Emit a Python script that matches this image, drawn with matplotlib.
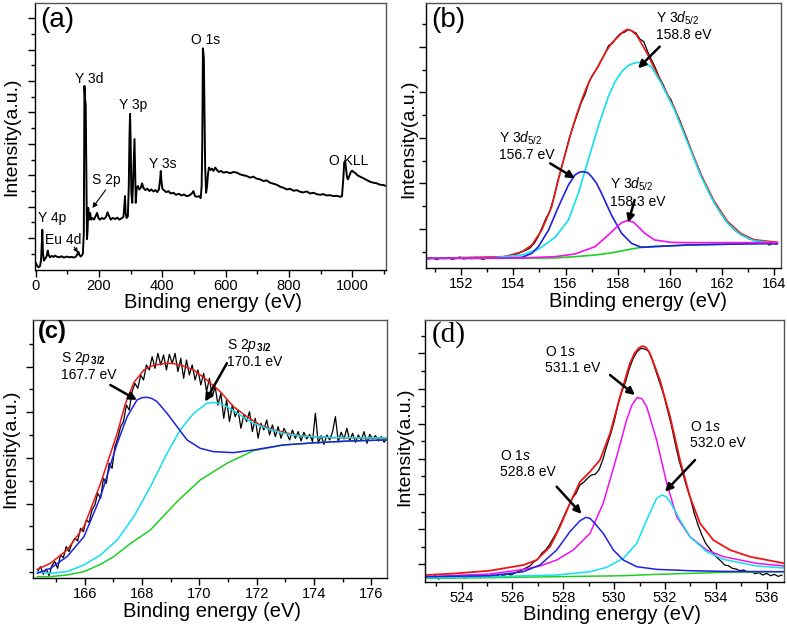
import numpy as np
import matplotlib
matplotlib.use('Agg')
import matplotlib.pyplot as plt
from matplotlib.ticker import MultipleLocator, FixedLocator

plt.rcParams['font.family'] = ['Liberation Sans', 'DejaVu Sans']
plt.rcParams['mathtext.fontset'] = 'custom'
plt.rcParams['mathtext.rm'] = 'Liberation Sans'
plt.rcParams['mathtext.it'] = 'Liberation Sans:italic'
plt.rcParams['mathtext.bf'] = 'Liberation Sans:bold'

# ---------------- (a) survey spectrum ----------------
survey_ev = [1, 5, 9, 14, 17, 19, 21, 23, 26, 31, 35, 38, 41, 45, 51, 56, 61, 66, 75, 82,
             89, 98, 106, 114, 121, 127, 132, 135, 138, 142, 146, 149, 152, 154, 156, 158, 160, 162, 164, 166,
             168, 172, 175, 178, 184, 189, 194, 198, 203, 209, 216, 222, 227, 232, 237, 243, 251, 258, 264, 271,
             277, 280, 282, 284, 287, 291, 294, 296, 298, 300, 302, 305, 307, 310, 312, 314, 316, 319, 323, 327,
             332, 336, 340, 346, 353, 359, 365, 372, 378, 384, 389, 393, 395, 397, 400, 405, 412, 419, 426, 435,
             443, 452, 460, 468, 477, 485, 493, 498, 503, 509, 516, 521, 524, 526, 528, 531, 533, 535, 538, 541,
             544, 547, 552, 556, 561, 567, 572, 578, 585, 593, 603, 614, 624, 635, 645, 656, 666, 677, 687, 698,
             708, 719, 729, 740, 751, 761, 772, 782, 793, 803, 814, 824, 835, 845, 856, 866, 877, 887, 898, 908,
             919, 929, 940, 951, 961, 967, 971, 974, 977, 980, 983, 986, 990, 995, 999, 1003, 1010, 1016, 1024, 1033,
             1041, 1049, 1058, 1066, 1077, 1087, 1098, 1106]
survey_int = [20, 12, 8, 12, 30, 70, 120, 50, 28, 35, 42, 58, 45, 38, 42, 39, 43, 40, 38, 41,
              37, 40, 38, 39, 37, 40, 48, 54, 45, 40, 44, 48, 110, 548, 510, 492, 290, 92, 120, 185,
              150, 170, 150, 155, 150, 160, 170, 155, 150, 155, 152, 158, 172, 160, 150, 155, 152, 156, 150, 154,
              158, 190, 220, 170, 155, 160, 250, 390, 465, 380, 230, 200, 250, 340, 390, 290, 200, 245, 250, 240,
              245, 258, 245, 238, 242, 235, 240, 234, 238, 232, 240, 270, 295, 265, 242, 238, 232, 235, 228, 230,
              224, 227, 222, 225, 220, 222, 228, 235, 220, 218, 220, 214, 250, 380, 660, 630, 470, 310, 230, 250,
              285, 305, 298, 302, 295, 305, 298, 292, 295, 290, 292, 288, 292, 290, 285, 282, 280, 275, 278, 272,
              270, 265, 267, 260, 257, 254, 248, 245, 240, 242, 236, 238, 233, 231, 234, 228, 230, 226, 224, 226,
              222, 223, 220, 221, 218, 220, 270, 320, 325, 300, 275, 270, 280, 292, 296, 292, 288, 282, 278, 274,
              270, 266, 262, 260, 258, 254, 253, 250]
survey_labels = ['Y 4p', 'Eu 4d', 'S 2p', 'Y 3d', 'Y 3p', 'Y 3s', 'O 1s', 'O KLL']
survey_label_ev = [53, 87, 224, 168, 308, 400, 535, 987]
survey_label_int = [155, 90, 268, 570, 490, 316, 685, 325]

# ---------------- (b) Y 3d ----------------
y3d_ev = [150.75, 150.9, 151.05, 151.2, 151.35, 151.5, 151.65, 151.8, 151.95, 152.1, 152.25, 152.4,
          152.55, 152.7, 152.85, 153.0, 153.15, 153.3, 153.45, 153.6, 153.75, 153.9, 154.05, 154.2,
          154.35, 154.5, 154.65, 154.8, 154.95, 155.1, 155.25, 155.4, 155.55, 155.7, 155.85, 156.0,
          156.15, 156.3, 156.45, 156.6, 156.75, 156.9, 157.05, 157.2, 157.35, 157.5, 157.65, 157.8,
          157.95, 158.1, 158.25, 158.4, 158.55, 158.7, 158.85, 159.0, 159.15, 159.3, 159.45, 159.6,
          159.75, 159.9, 160.05, 160.2, 160.35, 160.5, 160.65, 160.8, 160.95, 161.1, 161.25, 161.4,
          161.55, 161.7, 161.85, 162.0, 162.15, 162.3, 162.45, 162.6, 162.75, 162.9, 163.05, 163.2,
          163.35, 163.5, 163.65, 163.8, 163.95, 164.1]
y3d_data = [28, 32, 26, 31, 29, 33, 27, 30, 34, 28, 31, 29,
            33, 30, 27, 32, 30, 34, 31, 35, 37, 40, 41, 45,
            50, 55, 62, 75, 95, 122, 150, 172, 212, 262, 302, 348,
            392, 428, 462, 497, 522, 560, 580, 600, 622, 642, 668, 675,
            692, 704, 708, 716, 712, 706, 688, 680, 650, 625, 600, 572,
            550, 522, 505, 472, 450, 420, 390, 357, 325, 300, 270, 245,
            220, 198, 178, 160, 142, 130, 118, 108, 100, 95, 88, 85,
            82, 78, 80, 70, 74, 72]
y3d_env_ev = [150.7, 153.69, 154.33, 154.71, 155.09, 155.47, 155.85, 156.05, 156.24, 156.43, 156.62, 156.81,
              157.0, 157.25, 157.51, 157.76, 158.02, 158.21, 158.37, 158.53, 158.72, 158.91, 159.16, 159.67,
              160.18, 160.69, 161.2, 161.71, 162.22, 162.73, 163.23, 164.12]
y3d_env = [30, 35, 50, 70, 115, 185, 305, 360, 415, 462, 505, 543,
           575, 605, 645, 675, 695, 710, 717, 713, 700, 675, 640, 558,
           480, 380, 280, 200, 140, 104, 86, 78]
y3d_a_ev = [150.7, 152.4, 153.7, 154.33, 154.71, 154.96, 155.35, 155.73, 156.11, 156.36, 156.52, 156.68,
            156.85, 157.0, 157.19, 157.38, 157.76, 158.15, 158.53, 158.91, 159.42, 160.69, 161.96, 164.12]
y3d_a = [30, 30, 31, 33, 45, 65, 115, 185, 250, 280, 288, 290,
         287, 275, 255, 225, 160, 105, 75, 63, 65, 70, 72, 75]
y3d_b_ev = [150.7, 153.7, 154.33, 155.6, 156.36, 157.13, 157.64, 158.02, 158.15, 158.37, 158.59, 158.72,
            159.04, 159.42, 160.05, 160.69, 164.12]
y3d_b = [30, 31, 31, 35, 43, 65, 100, 128, 137, 143, 139, 130, 105, 85, 78, 77, 77]
y3d_c_ev = [150.7, 153.06, 154.33, 154.96, 155.6, 156.11, 156.49, 156.87, 157.25, 157.64, 157.9, 158.15,
            158.4, 158.6, 158.78, 159.04, 159.29, 159.67, 160.18, 160.69, 161.2, 161.71, 162.22, 162.73,
            163.23, 164.12]
y3d_c = [30, 31, 40, 57, 93, 145, 225, 325, 425, 515, 560, 590,
         608, 615, 618, 615, 605, 555, 475, 375, 275, 195, 135, 100,
         83, 75]
y3d_bg_ev = [150.7, 152.4, 154.33, 155.6, 156.36, 157.13, 157.64, 158.15, 158.53, 158.91, 159.42, 160.69,
             161.96, 164.12]
y3d_bg = [30, 30, 30, 31, 35, 40, 45, 52, 58, 63, 66, 70, 72, 75]

# ---------------- (c) S 2p ----------------
s2p_ev = [164.35, 164.45, 164.55, 164.65, 164.75, 164.85, 164.95, 165.05, 165.15, 165.25, 165.35, 165.45,
          165.55, 165.65, 165.75, 165.85, 165.95, 166.05, 166.15, 166.25, 166.35, 166.45, 166.55, 166.65,
          166.75, 166.85, 166.95, 167.05, 167.15, 167.25, 167.35, 167.45, 167.55, 167.65, 167.75, 167.85,
          167.95, 168.05, 168.15, 168.25, 168.35, 168.45, 168.55, 168.65, 168.75, 168.85, 168.95, 169.05,
          169.15, 169.25, 169.35, 169.45, 169.55, 169.65, 169.75, 169.85, 169.95, 170.05, 170.15, 170.25,
          170.35, 170.45, 170.55, 170.65, 170.75, 170.85, 170.95, 171.05, 171.15, 171.25, 171.35, 171.45,
          171.55, 171.65, 171.75, 171.85, 171.95, 172.05, 172.15, 172.25, 172.35, 172.45, 172.55, 172.65,
          172.75, 172.85, 172.95, 173.05, 173.15, 173.25, 173.35, 173.45, 173.55, 173.65, 173.75, 173.85,
          173.95, 174.05, 174.15, 174.25, 174.35, 174.45, 174.55, 174.65, 174.75, 174.85, 174.95, 175.05,
          175.15, 175.25, 175.35, 175.45, 175.55, 175.65, 175.75, 175.85, 175.95, 176.05, 176.15, 176.25,
          176.35, 176.45, 176.55]
s2p_data = [20, 35, 12, 28, 8, 38, 50, 30, 70, 62, 95, 80,
            105, 120, 112, 150, 140, 175, 168, 205, 220, 255, 240, 300,
            285, 345, 330, 395, 420, 455, 470, 520, 505, 560, 585, 570,
            610, 595, 640, 625, 665, 630, 675, 640, 670, 625, 672, 645,
            675, 620, 660, 600, 655, 610, 640, 595, 625, 580, 615, 560,
            600, 545, 575, 520, 555, 480, 535, 470, 520, 485, 505, 450,
            490, 470, 500, 440, 480, 420, 465, 445, 475, 430, 460, 425,
            455, 420, 450, 435, 415, 445, 420, 440, 412, 438, 418, 432,
            410, 495, 405, 428, 402, 430, 415, 440, 485, 410, 438, 418,
            450, 412, 435, 408, 430, 415, 440, 405, 432, 418, 428, 412,
            425, 408, 420]
s2p_env_ev = [164.34, 164.8, 165.38, 165.97, 166.55, 167.13, 167.42, 167.71, 168.06, 168.3, 168.52, 168.87,
              169.1, 169.33, 169.8, 170.26, 170.73, 171.19, 171.66, 172.12, 172.59, 173.51, 174.68, 176.53]
s2p_env = [27, 45, 85, 155, 285, 435, 525, 587, 625, 636, 641, 645,
           644, 640, 625, 595, 560, 515, 485, 460, 445, 427, 422, 420]
s2p_a_ev = [164.34, 164.8, 165.38, 165.97, 166.55, 167.13, 167.48, 167.82, 168.0, 168.17, 168.35, 168.52,
            168.87, 169.22, 169.57, 170.03, 170.49, 171.19, 171.89, 172.93, 174.1, 175.26, 176.53]
s2p_a = [15, 30, 65, 125, 245, 405, 485, 535, 542, 543, 539, 530,
         495, 455, 415, 390, 380, 377, 385, 400, 407, 412, 415]
s2p_b_ev = [164.34, 164.8, 165.38, 165.97, 166.55, 167.13, 167.71, 168.29, 168.87, 169.33, 169.8, 170.26,
            170.49, 170.73, 170.96, 171.42, 171.89, 172.35, 172.93, 173.51, 174.68, 176.53]
s2p_b = [20, 15, 20, 40, 70, 115, 185, 275, 375, 445, 495, 525,
         528, 524, 515, 490, 465, 450, 435, 427, 422, 421]
s2p_bg_ev = [164.34, 164.8, 165.38, 165.97, 166.55, 167.01, 167.6, 168.29, 169.22, 170.03, 170.96, 171.89,
             172.93, 174.1, 175.26, 176.53]
s2p_bg = [5, 5, 10, 20, 42, 65, 105, 145, 230, 295, 345, 383, 400, 407, 412, 415]

# ---------------- (d) O 1s ----------------
o1s_ev = [522.65, 522.8, 522.95, 523.1, 523.25, 523.4, 523.55, 523.7, 523.85, 524.0, 524.15, 524.3,
          524.45, 524.6, 524.75, 524.9, 525.05, 525.2, 525.35, 525.5, 525.65, 525.8, 525.95, 526.1,
          526.25, 526.4, 526.55, 526.7, 526.85, 527.0, 527.15, 527.3, 527.45, 527.6, 527.75, 527.9,
          528.05, 528.2, 528.35, 528.5, 528.65, 528.8, 528.95, 529.1, 529.25, 529.4, 529.55, 529.7,
          529.85, 530.0, 530.15, 530.3, 530.45, 530.6, 530.75, 530.9, 531.05, 531.2, 531.35, 531.5,
          531.65, 531.8, 531.95, 532.1, 532.25, 532.4, 532.55, 532.7, 532.85, 533.0, 533.15, 533.3,
          533.45, 533.6, 533.75, 533.9, 534.05, 534.2, 534.35, 534.5, 534.65, 534.8, 534.95, 535.1,
          535.25, 535.4, 535.55, 535.7, 535.85, 536.0, 536.15, 536.3, 536.45, 536.6]
o1s_data = [15, 10, 18, 8, 14, 12, 20, 10, 16, 14, 11, 18,
            13, 17, 12, 19, 15, 20, 16, 22, 18, 24, 20, 27,
            30, 36, 42, 48, 60, 68, 85, 95, 110, 130, 150, 175,
            200, 225, 250, 265, 290, 298, 310, 320, 322, 335, 365, 405,
            440, 480, 530, 570, 600, 640, 670, 690, 700, 698, 692, 665,
            630, 595, 560, 515, 470, 415, 365, 325, 285, 250, 205, 170,
            140, 115, 100, 85, 72, 62, 50, 48, 40, 38, 33, 35,
            28, 30, 24, 27, 20, 25, 18, 22, 16, 20]
o1s_env_ev = [522.62, 523.8, 525.11, 526.43, 526.95, 527.48, 527.87, 528.26, 528.66, 529.05, 529.44, 529.84,
              530.23, 530.62, 530.8, 530.95, 531.12, 531.25, 531.41, 531.8, 532.2, 532.59, 532.98, 533.38,
              533.9, 534.56, 535.34, 536.7]
o1s_env = [20, 25, 33, 50, 65, 105, 165, 235, 300, 330, 365, 445,
           555, 655, 685, 700, 707, 703, 685, 605, 495, 365, 255, 175,
           125, 95, 75, 55]
o1s_a_ev = [522.62, 525.11, 526.43, 527.08, 527.74, 528.26, 528.66, 528.89, 529.05, 529.18, 529.57, 529.97,
            530.36, 530.89, 531.67, 532.98, 534.3, 536.7]
o1s_a = [15, 18, 30, 50, 95, 150, 183, 193, 190, 180, 145, 95, 65, 45, 37, 33, 31, 30]
o1s_b_ev = [522.62, 525.11, 526.43, 527.08, 527.74, 528.39, 529.05, 529.57, 530.1, 530.49, 530.7, 530.91,
            531.1, 531.28, 531.67, 532.07, 532.46, 532.98, 533.64, 534.3, 535.61, 536.7]
o1s_b = [15, 23, 37, 47, 65, 95, 145, 235, 375, 485, 530, 553,
         548, 525, 425, 295, 195, 135, 95, 75, 55, 47]
o1s_c_ev = [522.62, 525.11, 527.74, 529.05, 529.7, 530.36, 530.89, 531.28, 531.67, 531.87, 532.05, 532.2,
            532.59, 532.98, 533.64, 534.3, 535.61, 536.7]
o1s_c = [12, 15, 20, 30, 43, 70, 115, 185, 250, 260, 255, 240, 185, 135, 90, 67, 47, 41]
o1s_bg_ev = [522.62, 525.11, 527.74, 530.36, 531.67, 532.98, 534.3, 536.7]
o1s_bg = [10, 12, 15, 18, 22, 25, 28, 30]

RED, BLUE, CYAN, MAG, GREEN = '#ee1515', '#2020e0', '#10e0f0', '#f010f0', '#20d020'
ARROW = dict(arrowstyle='-|>', color='k', lw=1.8, mutation_scale=11, shrinkA=0, shrinkB=0)

fig = plt.figure(figsize=(7.87, 6.29), dpi=100)
ax_a = fig.add_axes([0.0445, 0.5707, 0.446, 0.4245])
ax_b = fig.add_axes([0.5413, 0.5734, 0.4507, 0.4213])
ax_c = fig.add_axes([0.0423, 0.0806, 0.4494, 0.4107])
ax_d = fig.add_axes([0.540, 0.0752, 0.4565, 0.416])


def style(ax, xmaj, xmin, yticks, ymin):
    ax.xaxis.set_major_locator(MultipleLocator(xmaj))
    ax.xaxis.set_minor_locator(MultipleLocator(xmin))
    ax.yaxis.set_major_locator(FixedLocator(yticks))
    ax.yaxis.set_minor_locator(FixedLocator(ymin))
    ax.tick_params(which='major', direction='out', length=5, width=1, labelsize=10.5,
                   labelleft=False, pad=1.5)
    ax.tick_params(which='minor', direction='out', length=3, width=1)
    for s in ax.spines.values():
        s.set_linewidth(1.0)
    ax.spines['top'].set_color('#555555')
    ax.spines['right'].set_color('#555555')
    ax.set_xlabel('Binding energy (eV)', fontsize=14.5)
    ax.set_ylabel('Intensity(a.u.)', fontsize=14)


# (a)
ax_a.plot(survey_ev, survey_int, color='k', lw=1.4)
ax_a.set_xlim(-2, 1106)
ax_a.set_ylim(0, 795)
style(ax_a, 200, 100, np.arange(95, 790, 93.6), np.arange(48, 790, 93.6))
for lab, x, y in zip(survey_labels, survey_label_ev, survey_label_int):
    ax_a.text(x, y, lab, fontsize=10, ha='center', va='center')
ax_a.annotate('', xy=(138, 45), xytext=(117, 75),
              arrowprops=dict(arrowstyle='-|>', color='k', lw=0.8, mutation_scale=6))
ax_a.annotate('', xy=(174, 178), xytext=(226, 245),
              arrowprops=dict(arrowstyle='-|>', color='k', lw=0.8, mutation_scale=7))
ax_a.text(0.015, 0.985, '(a)', transform=ax_a.transAxes, fontsize=20, ha='left', va='top')
ax_a.xaxis.set_label_coords(0.506, -0.085)
ax_a.yaxis.set_label_coords(-0.043, 0.5)

# (b)
ax_b.plot(y3d_ev, y3d_data, color='k', lw=0.9)
ax_b.plot(y3d_env_ev, y3d_env, color=RED, lw=1.2)
ax_b.plot(y3d_bg_ev, y3d_bg, color=GREEN, lw=1.2)
ax_b.plot(y3d_c_ev, y3d_c, color=CYAN, lw=1.2)
ax_b.plot(y3d_a_ev, y3d_a, color=BLUE, lw=1.2)
ax_b.plot(y3d_b_ev, y3d_b, color=MAG, lw=1.2)
ax_b.set_xlim(150.65, 164.25)
ax_b.set_ylim(0, 795)
style(ax_b, 2, 1, np.arange(118, 790, 136.7), np.arange(49.6, 790, 136.7))
lab_d = 'Y 3$d_{5/2}$'
ax_b.text(159.48, 727, lab_d + '\n158.8 eV', fontsize=10, ha='left', va='center', linespacing=1.1)
ax_b.text(153.44, 368, lab_d + '\n156.7 eV', fontsize=10, ha='left', va='center', linespacing=1.1)
ax_b.text(157.70, 228, lab_d + '\n158.3 eV', fontsize=10, ha='left', va='center', linespacing=1.1)
ax_b.annotate('', xy=(158.78, 600), xytext=(159.61, 665), arrowprops=ARROW)
ax_b.annotate('', xy=(156.36, 270), xytext=(155.41, 315), arrowprops=ARROW)
ax_b.annotate('', xy=(158.40, 137), xytext=(158.65, 205), arrowprops=ARROW)
ax_b.text(0.015, 0.985, '(b)', transform=ax_b.transAxes, fontsize=20, ha='left', va='top')
ax_b.xaxis.set_label_coords(0.598, -0.09)
ax_b.yaxis.set_label_coords(-0.025, 0.49)

# (c)
ax_c.plot(s2p_ev, s2p_data, color='k', lw=0.9)
ax_c.plot(s2p_env_ev, s2p_env, color=RED, lw=1.1)
ax_c.plot(s2p_bg_ev, s2p_bg, color=GREEN, lw=1.1)
ax_c.plot(s2p_b_ev, s2p_b, color=CYAN, lw=1.1)
ax_c.plot(s2p_a_ev, s2p_a, color=BLUE, lw=1.1)
ax_c.set_xlim(164.2, 176.55)
ax_c.set_ylim(0, 775)
style(ax_c, 2, 1, np.arange(87, 770, 137), np.arange(18.5, 770, 137))
lab_p = r'S 2$p_{\,\mathbf{3/2}}$'
ax_c.text(165.18, 638, lab_p + '\n167.7 eV', fontsize=10, ha='left', va='center', linespacing=1.1)
ax_c.text(170.98, 677, lab_p + '\n170.1 eV', fontsize=10, ha='left', va='center', linespacing=1.1)
ax_c.annotate('', xy=(167.82, 535), xytext=(166.89, 580), arrowprops=ARROW)
ax_c.annotate('', xy=(170.2, 530), xytext=(170.96, 645), arrowprops=ARROW)
ax_c.text(0.012, 1.0, '(c)', transform=ax_c.transAxes, fontsize=17, fontweight='bold',
          ha='left', va='top')
ax_c.xaxis.set_label_coords(0.505, -0.09)
ax_c.yaxis.set_label_coords(-0.04, 0.5)

# (d)
ax_d.plot(o1s_ev, o1s_data, color='k', lw=0.9)
ax_d.plot(o1s_env_ev, o1s_env, color=RED, lw=1.3)
ax_d.plot(o1s_bg_ev, o1s_bg, color=GREEN, lw=1.1)
ax_d.plot(o1s_b_ev, o1s_b, color=MAG, lw=1.1)
ax_d.plot(o1s_c_ev, o1s_c, color=CYAN, lw=1.1)
ax_d.plot(o1s_a_ev, o1s_a, color=BLUE, lw=1.1)
ax_d.set_xlim(522.56, 536.69)
ax_d.set_ylim(0, 785)
style(ax_d, 2, 1, np.arange(52, 780, 105.5), np.arange(104.75, 780, 105.5))
lab_s = 'O 1$s$'
ax_d.text(527.28, 665, lab_s + '\n531.1 eV', fontsize=10, ha='left', va='center', linespacing=1.1)
ax_d.text(525.51, 353, lab_s + '\n528.8 eV', fontsize=10, ha='left', va='center', linespacing=1.1)
ax_d.text(532.98, 440, lab_s + '\n532.0 eV', fontsize=10, ha='left', va='center', linespacing=1.1)
ax_d.annotate('', xy=(530.82, 560), xytext=(529.84, 620), arrowprops=ARROW)
ax_d.annotate('', xy=(528.72, 203), xytext=(527.74, 285), arrowprops=ARROW)
ax_d.annotate('', xy=(532.0, 270), xytext=(533.18, 365), arrowprops=ARROW)
ax_d.text(0.02, 0.995, '(d)', transform=ax_d.transAxes, fontsize=21,
          family='Liberation Serif', ha='left', va='top')
ax_d.xaxis.set_label_coords(0.52, -0.09)
ax_d.yaxis.set_label_coords(-0.033, 0.515)

fig.savefig('out.png', dpi=100)
